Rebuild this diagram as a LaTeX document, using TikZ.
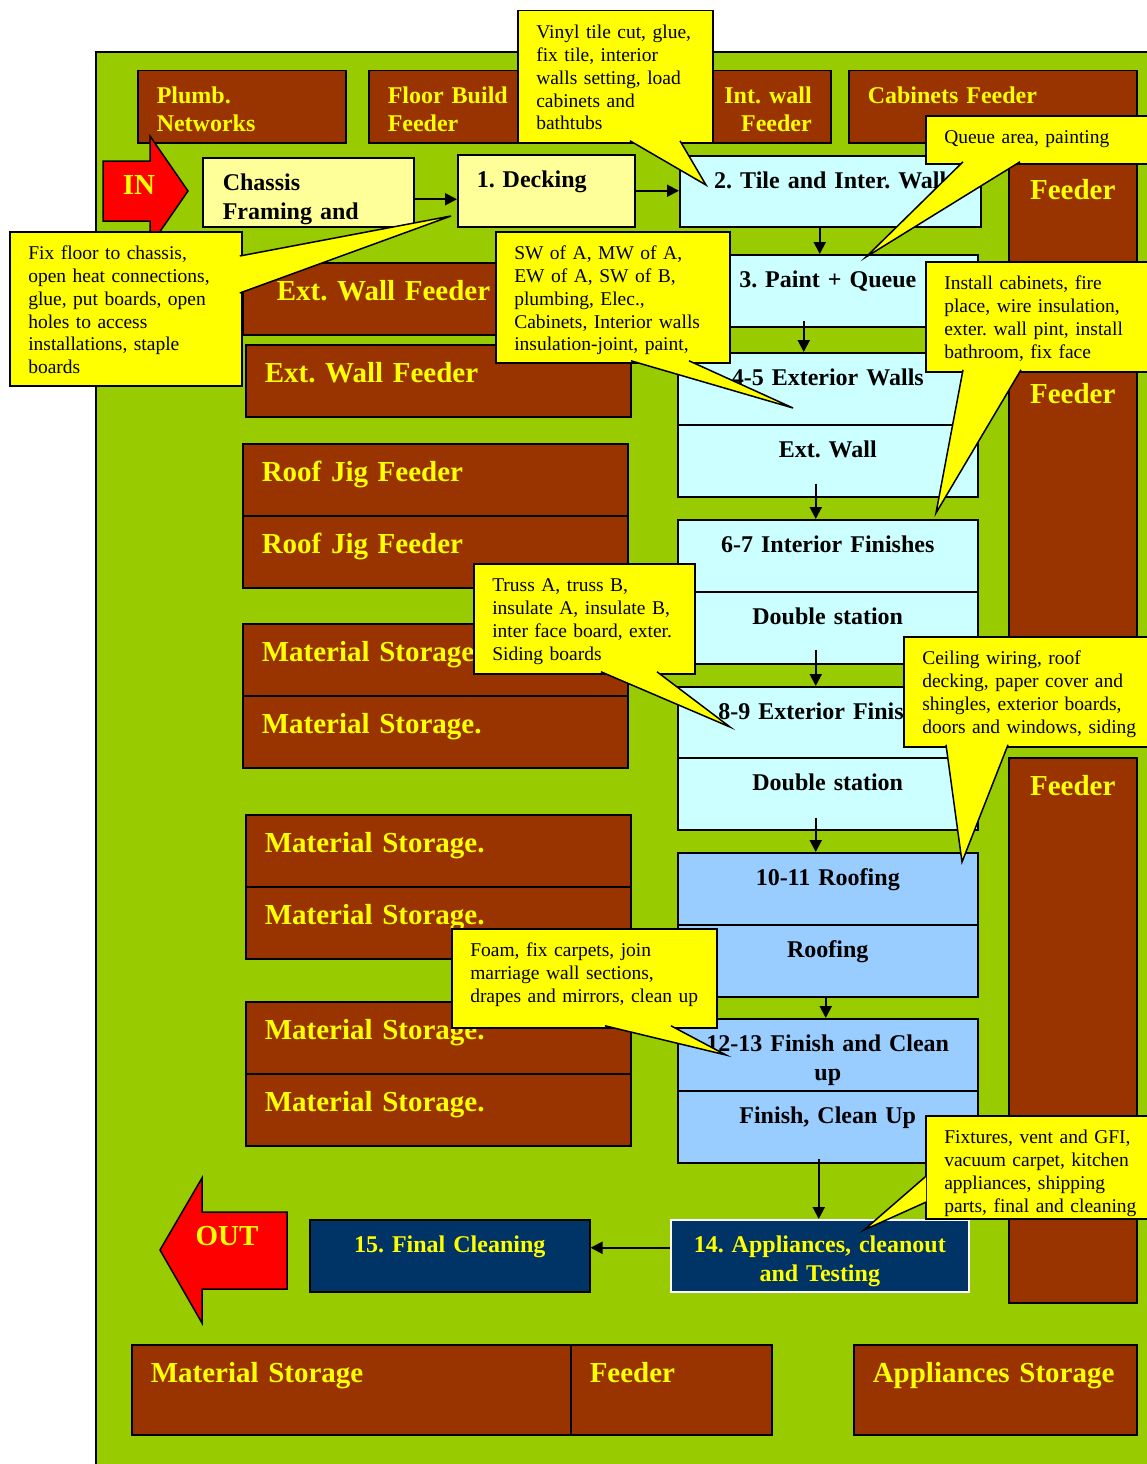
\documentclass[tikz,border=0pt]{standalone}
\usepackage{fontspec}
\setmainfont{Liberation Serif}
\usepackage{xcolor}
\usepackage{tikz}
\usetikzlibrary{arrows.meta}
\frenchspacing

\definecolor{fondvert}{HTML}{99CC00}
\definecolor{brun}{HTML}{993300}
\definecolor{jaune}{HTML}{FFFF00}
\definecolor{jaunepale}{HTML}{FFFF99}
\definecolor{cyanpale}{HTML}{CCFFFF}
\definecolor{bleuclair}{HTML}{99CCFF}
\definecolor{marine}{HTML}{003366}
\definecolor{rouge}{HTML}{FF0000}

% pointe d'une bulle : {base 1}{base 2}{sommet}
\newcommand{\pointebulle}[3]{%
    \fill[jaune] #1 -- #3 -- #2 -- cycle;
    \draw[line width=1.5pt] #1 -- #3 -- #2;}

\begin{document}
\begin{tikzpicture}[
        x=1pt, y=-1pt,
        >={Triangle[length=12pt, width=12pt]},
        feeder/.style={draw, line width=1.5pt, fill=brun, text=jaune, anchor=north west,
            align=left, inner xsep=19pt, inner ysep=0pt, text height=38pt, text depth=34pt,
            font=\bfseries\fontsize{29}{34}\selectfont},
        topfeeder/.style={feeder, text height=33pt, text depth=39pt,
            font=\bfseries\fontsize{24}{28}\selectfont},
        poste/.style={draw, line width=1.5pt, anchor=north west, align=center,
            inner xsep=4pt, inner ysep=0pt, text height=33pt, text depth=39pt,
            text width=292pt, font=\bfseries\fontsize{24}{29}\selectfont},
        bulle/.style={draw, line width=1.5pt, fill=jaune, anchor=north west, align=left,
            inner xsep=18.5pt, inner ysep=0pt, text height=28pt,
            font=\fontsize{19.5}{22.8}\selectfont},
        fleche/.style={->, line width=2pt},
        grosse/.style={text=jaune, font=\bfseries\fontsize{29}{34}\selectfont}
    ]

    \useasboundingbox (0,0) rectangle (1147,1464);

    % -- Fond de l'usine --
    \draw[line width=1.2pt, fill=fondvert] (96,52) rectangle (1175,1490);

    % -- Feeders du haut --
    \node[topfeeder, text width=170pt] (plomb) at (137,70) {Plumb.\\Networks};
    \node[topfeeder, text width=202pt] (plancher) at (368,70) {Floor Build\\Feeder};
    \node[topfeeder, text width=152pt, align=right] (murint) at (640,70) {Int. wall\\Feeder};
    \node[topfeeder, text width=250pt] (armoires) at (848,70) {Cabinets Feeder};

    % -- Feeders et stockage a gauche --
    \node[feeder, inner xsep=34pt, text width=320pt] (murextA) at (242,262) {Ext. Wall Feeder};
    \node[feeder, text width=347pt] (murextB) at (245,344) {Ext. Wall Feeder};
    \node[feeder, text width=347pt] (toitA) at (242,443) {Roof Jig Feeder};
    \node[feeder, text width=347pt] (toitB) at (242,515) {Roof Jig Feeder};
    \node[feeder, text width=347pt] (stockA) at (242,623) {Material Storage.};
    \node[feeder, text width=347pt] (stockB) at (242,695) {Material Storage.};
    \node[feeder, text width=347pt] (stockC) at (245,814) {Material Storage.};
    \node[feeder, text width=347pt] (stockD) at (245,886) {Material Storage.};
    \node[feeder, text width=347pt] (stockE) at (245,1001) {Material Storage.};
    \node[feeder, text width=347pt] (stockF) at (245,1073) {Material Storage.};

    % -- Feeders a droite --
    \node[feeder, text width=90pt, align=center, text depth=166pt] (feedR1) at (1008,161) {Feeder};
    \node[feeder, text width=90pt, align=center, text depth=297pt] (feedR2) at (1008,365) {Feeder};
    \node[feeder, text width=90pt, align=center, text depth=507pt] (feedR3) at (1008,757) {Feeder};

    % -- Stockage du bas --
    \node[feeder, text width=401pt, text depth=52pt] (stockbas) at (131,1344) {Material Storage};
    \node[feeder, text width=163pt, text depth=52pt] (feederbas) at (570,1344) {Feeder};
    \node[feeder, text width=245pt, text depth=52pt] (electro) at (853,1344) {Appliances Storage};

    % -- Entree et sortie --
    \draw[line width=1.5pt, fill=rouge] (103,161) -- (150,161) -- (150,136) -- (188,191)
        -- (150,246) -- (150,221) -- (103,221) -- cycle;
    \node[grosse] (entree) at (139,185) {IN};
    \draw[line width=1.5pt, fill=rouge] (287,1212) -- (202,1212) -- (202,1178) -- (160,1250)
        -- (202,1323) -- (202,1289) -- (287,1289) -- cycle;
    \node[grosse] (sortie) at (227,1236) {OUT};

    % -- Postes de la chaine --
    \node[poste, fill=jaunepale, align=left, inner xsep=20pt, text width=171pt, text depth=36pt]
        (chassis) at (202,157) {Chassis\\Framing and};
    \node[poste, fill=jaunepale, align=left, inner xsep=19pt, text width=139pt]
        (decking) at (457,154) {1. Decking};
    \node[poste, fill=cyanpale, text width=293pt, text depth=38pt] (carrelage) at (679,155) {2. Tile and Inter. Wall};
    \node[poste, fill=cyanpale] (peinture) at (677,254) {3. Paint + Queue};
    \node[poste, fill=cyanpale] (ext45) at (677,352) {4-5 Exterior Walls};
    \node[poste, fill=cyanpale] (murext) at (677,424) {Ext. Wall};
    \node[poste, fill=cyanpale] (int67) at (677,519) {6-7 Interior Finishes};
    \node[poste, fill=cyanpale] (double1) at (677,591) {Double station};
    \node[poste, fill=cyanpale] (ext89) at (677,686) {8-9 Exterior Finishes};
    \node[poste, fill=cyanpale] (double2) at (677,757) {Double station};
    \node[poste, fill=bleuclair] (toit1011) at (677,852) {10-11 Roofing};
    \node[poste, fill=bleuclair] (toiture) at (677,924) {Roofing};
    \node[poste, fill=bleuclair] (fin1213) at (677,1018) {12-13 Finish and Clean\\up};
    \node[poste, fill=bleuclair] (finition) at (677,1090) {Finish, Clean Up};
    \node[poste, fill=marine, draw=white, text=jaune, text width=290pt]
        (appareils) at (670,1219) {14. Appliances, cleanout\\and Testing};
    \node[poste, fill=marine, text=jaune, text width=272pt]
        (nettoyage) at (309,1219) {15. Final Cleaning};

    % -- Fleches --
    % Chassis -> Decking :
    \draw[fleche] ([yshift=-7pt]chassis.east) -- ([yshift=-7pt]chassis.east -| decking.west);
    % Decking -> 2 :
    \draw[fleche] (decking.east) -- (decking.east -| carrelage.west);
    % 2 -> 3 :
    \draw[fleche] ([xshift=-10.5pt]carrelage.south) -- ([xshift=-10.5pt]carrelage.south |- peinture.north);
    % 3 -> 4-5 :
    \draw[fleche] ([xshift=-24pt, yshift=7pt]peinture.south) -- ([xshift=-24pt]peinture.south |- ext45.north);
    % Ext. Wall -> 6-7 :
    \draw[fleche] ([xshift=-12pt, yshift=14pt]murext.south) -- ([xshift=-12pt]murext.south |- int67.north);
    % Double station -> 8-9 :
    \draw[fleche] ([xshift=-12pt, yshift=15pt]double1.south) -- ([xshift=-12pt]double1.south |- ext89.north);
    % Double station -> 10-11 :
    \draw[fleche] ([xshift=-12pt, yshift=13pt]double2.south) -- ([xshift=-12pt]double2.south |- toit1011.north);
    % Roofing -> 12-13 :
    \draw[fleche] ([xshift=-2pt]toiture.south) -- ([xshift=-2pt]toiture.south |- fin1213.north);
    % Finish -> 14 :
    \draw[fleche] ([xshift=-9pt, yshift=5pt]finition.south) -- ([xshift=-9pt]finition.south |- appareils.north);
    % 14 -> 15 :
    \draw[fleche] ([yshift=8pt]appareils.west) -- ([yshift=8pt]appareils.west -| nettoyage.east);

    % -- Bulles --
    \node[bulle, text width=158pt, text depth=104pt] (bvinyl) at (517,10)
        {Vinyl tile cut, glue,\\fix tile, interior\\walls setting, load\\cabinets and\\bathtubs};
    \pointebulle{(630,140.8)}{(680,140.8)}{(706,185)}

    \node[bulle, text width=195pt, text depth=126pt] (bplancher) at (9,231)
        {Fix floor to chassis,\\open heat connections,\\glue, put boards, open\\holes to access\\installations, staple\\boards};
    \pointebulle{(239.8,256)}{(239.8,293)}{(451,216)}

    \node[bulle, text width=197pt, text depth=103pt] (bmurs) at (495,231)
        {SW of A, MW of A,\\EW of A, SW of B,\\plumbing, Elec.,\\Cabinets, Interior walls\\insulation-joint, paint,};
    \pointebulle{(631,360.8)}{(689,360.8)}{(793,408)}

    \node[bulle, text width=198pt, text depth=20pt] (bqueue) at (925,115)
        {Queue area, painting};
    \pointebulle{(963,161.8)}{(1020,161.8)}{(866,257)}

    \node[bulle, text width=198pt, text depth=82pt] (binstall) at (925,261)
        {Install cabinets, fire\\place, wire insulation,\\exter. wall pint, install\\bathroom, fix face};
    \pointebulle{(963,369.8)}{(1021,369.8)}{(936,513)}

    \node[bulle, text width=184pt, text depth=82pt] (btruss) at (473,563)
        {Truss A, truss B,\\insulate A, insulate B,\\inter face board, exter.\\Siding boards};
    \pointebulle{(601,671.8)}{(657,671.8)}{(730,727)}

    \node[bulle, text width=220pt, text depth=82pt] (bplafond) at (903,636)
        {Ceiling wiring, roof\\decking, paper cover and\\shingles, exterior boards,\\doors and windows, siding};
    \pointebulle{(946,744.8)}{(1008,744.8)}{(962,862)}

    \node[bulle, text width=228pt, text depth=71pt] (bmousse) at (451,928)
        {Foam, fix carpets, join\\marriage wall sections,\\drapes and mirrors, clean up};
    \pointebulle{(605,1025.8)}{(671,1025.8)}{(726,1055)}

    \node[bulle, text width=198pt, text depth=75pt] (bfixtures) at (925,1115)
        {Fixtures, vent and GFI,\\vacuum carpet, kitchen\\appliances, shipping\\parts, final and cleaning};
    \pointebulle{(926.2,1176)}{(926.2,1202)}{(864,1230)}

\end{tikzpicture}
\end{document}
